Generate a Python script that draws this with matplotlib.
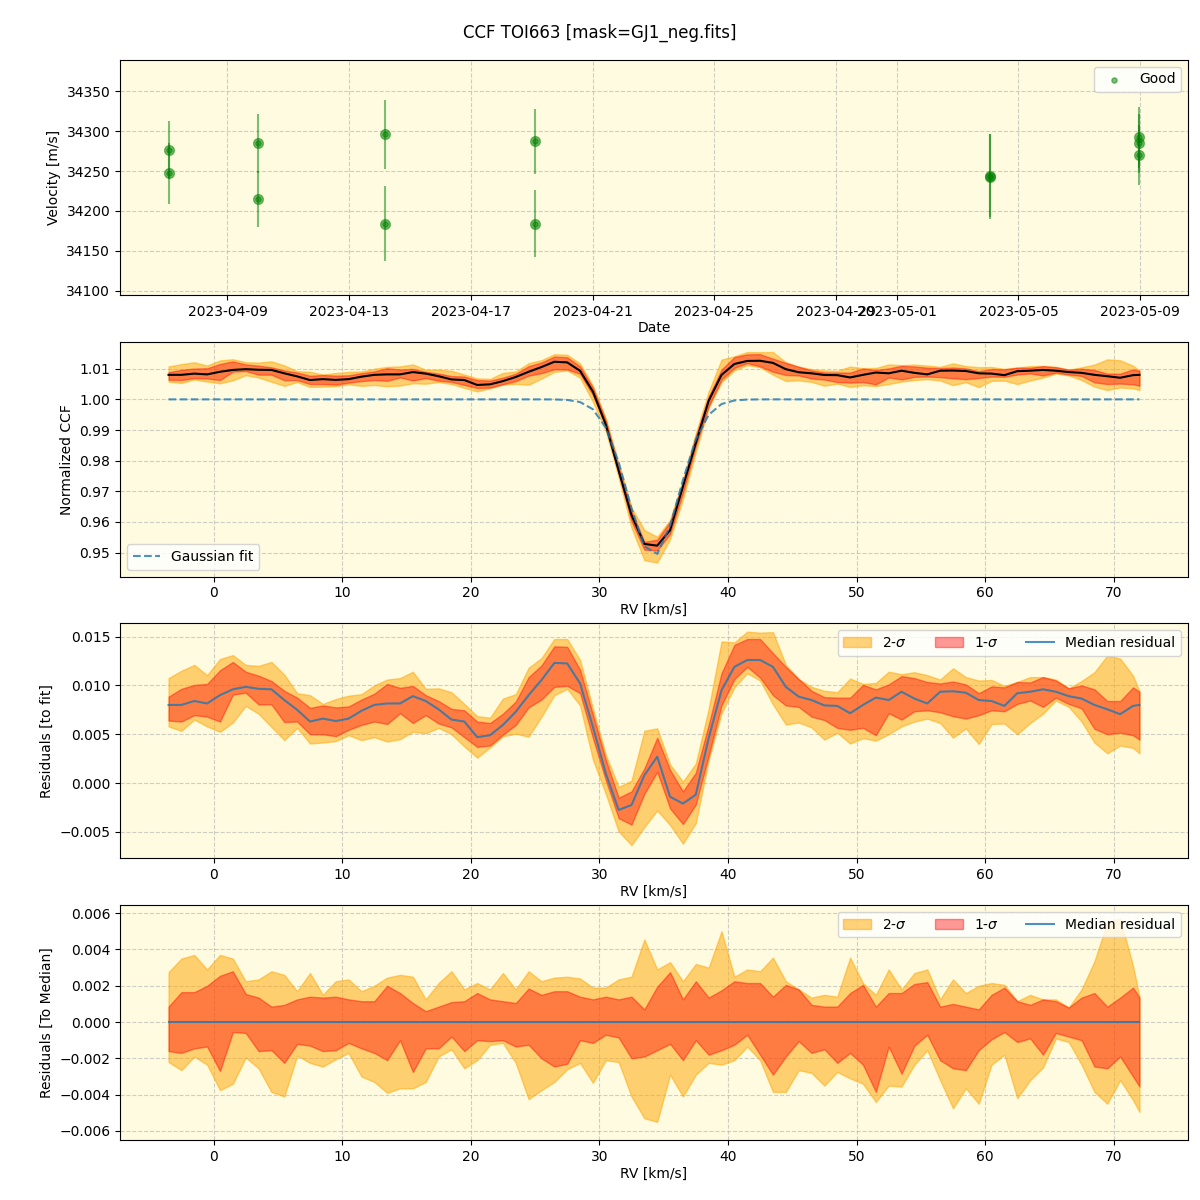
import numpy as np
import matplotlib
matplotlib.use("Agg")
import matplotlib.pyplot as plt
import pandas as pd

# ---- velocities (top panel) ----
obs_dates = ["2023-04-07 01:30", "2023-04-07 01:30",
             "2023-04-10 00:00", "2023-04-10 00:00",
             "2023-04-14 04:00", "2023-04-14 04:00",
             "2023-04-19 03:00", "2023-04-19 03:00",
             "2023-05-04 01:40", "2023-05-04 01:40",
             "2023-05-08 23:30", "2023-05-08 23:30", "2023-05-08 23:30"]
velocity = [34276, 34247, 34285, 34215, 34296, 34184, 34287, 34184,
            34244, 34243, 34292, 34285, 34270]
velocity_err = [36, 38, 37, 35, 43, 47, 41, 42, 52, 53, 38, 37, 37]

# ---- CCF (units of 1e-3 for residuals) ----
rv = np.append(np.arange(-3.5, 72.0, 1.0), 72.0)

med_resid = [8.0, 8.0, 8.4, 8.15, 9.0, 9.6, 9.85, 9.65, 9.6, 8.5,
             7.5, 6.3, 6.6, 6.35, 6.6, 7.4, 8.0, 8.15, 8.15, 8.9,
             8.4, 7.55, 6.5, 6.3, 4.7, 4.9, 5.95, 7.3, 9.0, 10.55,
             12.3, 12.25, 10.2, 5.75, 1.0, -2.75, -2.25, 0.8, 2.7, -1.4,
             -2.1, -1.2, 4.6, 9.5, 11.9, 12.6, 12.6, 11.9, 9.85, 8.85,
             8.5, 7.95, 7.9, 7.15, 8.0, 8.75, 8.5, 9.35, 8.65, 8.15,
             9.35, 9.4, 9.25, 8.5, 8.4, 7.9, 9.2, 9.35, 9.6, 9.35,
             8.9, 8.65, 8.0, 7.55, 7.05, 7.9, 8.0]

hi2 = [2.75, 3.5, 3.7, 2.9, 3.7, 3.5, 2.25, 2.35, 2.8, 2.6,
       1.7, 2.7, 1.5, 2.25, 2.35, 1.7, 2.0, 2.45, 2.6, 2.5,
       1.25, 2.15, 2.8, 1.8, 2.15, 1.8, 2.7, 1.8, 2.8, 2.25,
       2.45, 2.5, 2.4, 1.9, 1.9, 2.35, 2.5, 4.55, 2.9, 3.3,
       2.25, 3.2, 3.0, 5.0, 2.5, 2.9, 2.8, 3.55, 2.25, 1.8,
       1.35, 1.5, 1.4, 3.55, 2.15, 1.5, 2.9, 1.8, 2.7, 2.9,
       1.25, 2.35, 1.6, 2.0, 2.15, 2.05, 1.15, 1.5, 1.25, 1.25,
       0.8, 1.8, 3.35, 5.5, 5.7, 3.1, 1.4]

hi1 = [0.85, 1.65, 1.65, 2.0, 2.55, 2.8, 1.55, 1.35, 0.85, 0.95,
       1.25, 1.4, 1.35, 1.4, 1.25, 1.15, 1.15, 2.0, 1.6, 1.05,
       0.6, 0.85, 1.1, 1.15, 1.6, 1.25, 1.15, 1.05, 1.85, 1.5,
       1.7, 1.7, 1.4, 1.25, 1.4, 1.25, 1.4, 0.7, 1.95, 2.75,
       1.25, 2.25, 1.35, 1.75, 2.25, 2.15, 2.15, 1.4, 2.05, 1.8,
       0.95, 0.85, 0.85, 1.6, 2.05, 0.85, 1.6, 1.6, 2.1, 2.2,
       0.85, 1.0, 0.85, 0.7, 1.5, 1.9, 1.15, 0.95, 1.25, 1.15,
       0.8, 1.35, 1.6, 0.85, 1.35, 1.9, 1.35]

lo1 = [-1.6, -1.7, -1.45, -1.35, -2.7, -0.55, -0.6, -1.6, -1.55, -2.25,
       -1.2, -1.3, -1.6, -1.55, -1.15, -1.45, -1.7, -2.1, -1.0, -2.75,
       -1.45, -1.45, -0.8, -1.6, -1.0, -1.05, -1.0, -1.35, -1.25, -2.0,
       -2.45, -2.3, -1.0, -1.15, -0.7, -0.85, -2.0, -1.9, -1.55, -1.2,
       -2.1, -1.0, -1.8, -1.55, -1.25, -0.7, -1.8, -2.9, -1.9, -1.05,
       -1.7, -1.5, -2.25, -1.7, -2.35, -3.85, -1.35, -2.85, -1.3, -0.7,
       -2.1, -2.55, -2.65, -1.55, -0.95, -0.55, -1.1, -0.9, -1.8, -0.6,
       -0.8, -1.0, -2.45, -2.55, -1.9, -3.0, -3.55]

lo2 = [-2.2, -2.65, -1.9, -2.35, -3.75, -3.4, -1.95, -2.55, -3.85, -4.1,
       -1.85, -2.25, -2.45, -2.05, -1.7, -3.0, -3.3, -3.9, -3.65, -3.65,
       -3.3, -1.9, -1.5, -2.55, -2.1, -1.25, -1.15, -2.25, -4.25, -3.75,
       -3.3, -2.6, -2.25, -3.35, -2.1, -2.2, -4.1, -5.3, -5.5, -2.9,
       -4.1, -2.9, -2.25, -2.35, -2.1, -1.35, -2.1, -3.85, -3.85, -2.65,
       -2.8, -3.5, -2.75, -3.1, -3.4, -4.4, -3.5, -3.55, -2.35, -1.55,
       -3.2, -4.75, -3.65, -4.5, -2.35, -1.8, -4.2, -3.2, -2.5, -0.9,
       -1.1, -2.35, -3.85, -4.5, -3.2, -4.3, -4.95]

# Gaussian fit parameters
fit_offset, fit_depth, fit_center, fit_sigma = 1.0, 0.051, 34.2, 2.0

scale = 1e-3
med_resid = np.array(med_resid) * scale
hi2 = np.array(hi2) * scale
hi1 = np.array(hi1) * scale
lo1 = np.array(lo1) * scale
lo2 = np.array(lo2) * scale

fit = fit_offset - fit_depth * np.exp(-0.5 * ((rv - fit_center) / fit_sigma) ** 2)
ccf_med = fit + med_resid

bg = '#fefbe0'
c2 = 'orange'
c1 = 'red'

fig, axes = plt.subplots(4, 1, figsize=(12, 12))
fig.subplots_adjust(left=0.1, right=0.99, top=0.95, bottom=0.05, hspace=0.2)
fig.suptitle("CCF TOI663 [mask=GJ1_neg.fits]")

for ax in axes:
    ax.set_facecolor(bg)
    ax.grid(True, ls='--', alpha=0.6)
    ax.set_axisbelow(True)

# panel 1
ax = axes[0]
dates = pd.to_datetime(obs_dates)
ax.errorbar(dates, velocity, yerr=velocity_err, fmt='o', color='green',
            alpha=0.5, ms=7)
ax.scatter(dates, velocity, s=14, color='green', alpha=0.5, label='Good',
           zorder=3)
ax.set_ylim(34095, 34389)
ax.set_ylabel("Velocity [m/s]")
ax.set_xlabel("Date", labelpad=2)
ax.legend(loc='upper right')

# panel 2
ax = axes[1]
ax.fill_between(rv, ccf_med + lo2, ccf_med + hi2, color=c2, alpha=0.5)
ax.fill_between(rv, ccf_med + lo1, ccf_med + hi1, color=c1, alpha=0.4)
ax.plot(rv, ccf_med, color='black', lw=1.5)
ax.plot(rv, fit, '--', color='C0', alpha=0.8, lw=1.5, label='Gaussian fit')
ax.set_ylim(0.9422, 1.0188)
ax.set_ylabel("Normalized CCF")
ax.set_xlabel("RV [km/s]", labelpad=2)
ax.legend(loc='lower left')

# panel 3
ax = axes[2]
ax.fill_between(rv, med_resid + lo2, med_resid + hi2, color=c2, alpha=0.5,
                label=r'2-$\sigma$')
ax.fill_between(rv, med_resid + lo1, med_resid + hi1, color=c1, alpha=0.4,
                label=r'1-$\sigma$')
ax.plot(rv, med_resid, color='C0', alpha=0.8, lw=1.5, label='Median residual')
ax.set_ylim(-0.0077, 0.01634)
ax.set_ylabel("Residuals [to fit]")
ax.set_xlabel("RV [km/s]", labelpad=2)
ax.legend(loc='upper right', ncol=3)

# panel 4
ax = axes[3]
ax.fill_between(rv, lo2, hi2, color=c2, alpha=0.5, label=r'2-$\sigma$')
ax.fill_between(rv, lo1, hi1, color=c1, alpha=0.4, label=r'1-$\sigma$')
ax.plot(rv, np.zeros_like(rv), color='C0', alpha=0.8, lw=1.5,
        label='Median residual')
ax.set_ylim(-0.0065, 0.00644)
ax.set_ylabel("Residuals [To Median]")
ax.set_xlabel("RV [km/s]", labelpad=2)
ax.legend(loc='upper right', ncol=3)

for ax in axes[1:]:
    ax.set_xlim(-7.275, 75.775)

fig.savefig("out.png", dpi=100)
